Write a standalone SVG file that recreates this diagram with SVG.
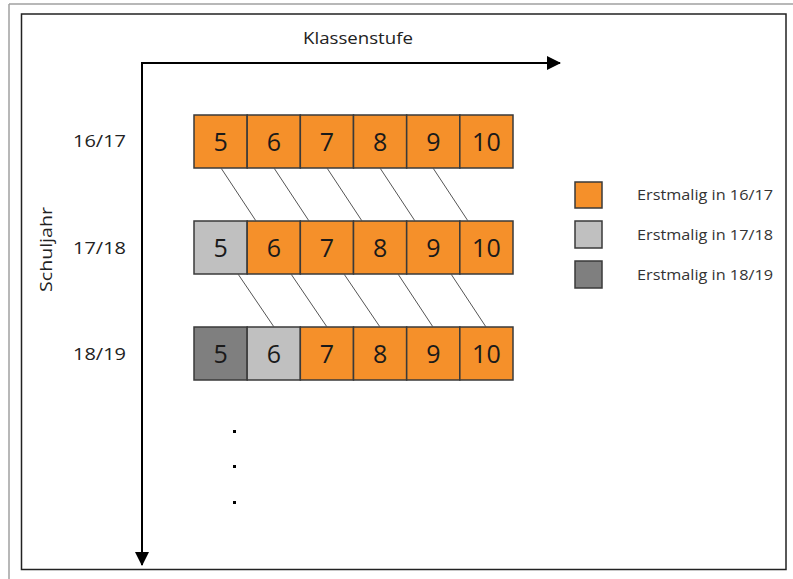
<svg xmlns="http://www.w3.org/2000/svg" width="793" height="579" viewBox="0 0 793 579">
  <style>
    .box { stroke: #3a3a3a; stroke-width: 1.5; }
    .o { fill: #F5902A; }
    .l { fill: #C0C0C0; }
    .d { fill: #7F7F7F; }
    .num { font-family: "Open Sans", "Liberation Sans", sans-serif; font-size: 25px; fill: #1a1a1a; text-anchor: middle; }
    .lab { font-family: "Open Sans", "Liberation Sans", sans-serif; font-size: 17px; fill: #222; }
    .leg { font-family: "Open Sans", "Liberation Sans", sans-serif; font-size: 14px; fill: #333; }
    .link { stroke: #555; stroke-width: 1; fill: none; }
    .axis { stroke: #000; stroke-width: 2; fill: none; }
  </style>
  <defs>
    <marker id="arr" viewBox="0 0 14 14" refX="13" refY="7" markerWidth="14" markerHeight="14" markerUnits="userSpaceOnUse" orient="auto">
      <path d="M0,0 L14,7 L0,14 Z" fill="#000"/>
    </marker>
  </defs>
  <rect x="0" y="0" width="793" height="579" fill="#fff"/>
  <g id="page-border">
    <line x1="9" y1="4" x2="793" y2="4" stroke="#a0a0a0" stroke-width="1.5"/>
    <line x1="9" y1="4" x2="9" y2="579" stroke="#a0a0a0" stroke-width="1.5"/>
  </g>
  <rect id="frame" x="21.5" y="14" width="764.5" height="555.5" fill="none" stroke="#222" stroke-width="1.5"/>

  <g id="axes">
    <polyline class="axis" points="142,562 142,63 560,63" marker-end="url(#arr)"/>
    <line class="axis" x1="142" y1="63" x2="142" y2="565" marker-end="url(#arr)"/>
    <text id="x-label" class="lab" x="303" y="44" textLength="110" lengthAdjust="spacingAndGlyphs">Klassenstufe</text>
    <text id="y-label" class="lab" transform="translate(52,292) rotate(-90)" textLength="85" lengthAdjust="spacingAndGlyphs">Schuljahr</text>
  </g>

  <g id="row-labels">
    <text class="lab" x="73" y="147" textLength="53" lengthAdjust="spacingAndGlyphs">16/17</text>
    <text class="lab" x="73" y="254" textLength="53" lengthAdjust="spacingAndGlyphs">17/18</text>
    <text class="lab" x="73" y="360" textLength="53" lengthAdjust="spacingAndGlyphs">18/19</text>
  </g>

  <g id="row-1617">
    <rect class="box o" x="194" y="115" width="53.17" height="53"/>
    <rect class="box o" x="247.17" y="115" width="53.17" height="53"/>
    <rect class="box o" x="300.33" y="115" width="53.17" height="53"/>
    <rect class="box o" x="353.5" y="115" width="53.17" height="53"/>
    <rect class="box o" x="406.67" y="115" width="53.17" height="53"/>
    <rect class="box o" x="459.83" y="115" width="53.17" height="53"/>
    <text class="num" x="220.6" y="150.5">5</text>
    <text class="num" x="273.8" y="150.5">6</text>
    <text class="num" x="326.9" y="150.5">7</text>
    <text class="num" x="380.1" y="150.5">8</text>
    <text class="num" x="433.3" y="150.5">9</text>
    <text class="num" x="486.4" y="150.5">10</text>
  </g>

  <g id="row-1718">
    <rect class="box l" x="194" y="221" width="53.17" height="53"/>
    <rect class="box o" x="247.17" y="221" width="53.17" height="53"/>
    <rect class="box o" x="300.33" y="221" width="53.17" height="53"/>
    <rect class="box o" x="353.5" y="221" width="53.17" height="53"/>
    <rect class="box o" x="406.67" y="221" width="53.17" height="53"/>
    <rect class="box o" x="459.83" y="221" width="53.17" height="53"/>
    <text class="num" x="220.6" y="256.5">5</text>
    <text class="num" x="273.8" y="256.5">6</text>
    <text class="num" x="326.9" y="256.5">7</text>
    <text class="num" x="380.1" y="256.5">8</text>
    <text class="num" x="433.3" y="256.5">9</text>
    <text class="num" x="486.4" y="256.5">10</text>
  </g>

  <g id="row-1819">
    <rect class="box d" x="194" y="327" width="53.17" height="53"/>
    <rect class="box l" x="247.17" y="327" width="53.17" height="53"/>
    <rect class="box o" x="300.33" y="327" width="53.17" height="53"/>
    <rect class="box o" x="353.5" y="327" width="53.17" height="53"/>
    <rect class="box o" x="406.67" y="327" width="53.17" height="53"/>
    <rect class="box o" x="459.83" y="327" width="53.17" height="53"/>
    <text class="num" x="220.6" y="362.5">5</text>
    <text class="num" x="273.8" y="362.5">6</text>
    <text class="num" x="326.9" y="362.5">7</text>
    <text class="num" x="380.1" y="362.5">8</text>
    <text class="num" x="433.3" y="362.5">9</text>
    <text class="num" x="486.4" y="362.5">10</text>
  </g>

  <g id="connectors">
    <line class="link" x1="221" y1="168" x2="256" y2="221"/>
    <line class="link" x1="274" y1="168" x2="309" y2="221"/>
    <line class="link" x1="327" y1="168" x2="362" y2="221"/>
    <line class="link" x1="380" y1="168" x2="415" y2="221"/>
    <line class="link" x1="433" y1="168" x2="468" y2="221"/>
    <line class="link" x1="238" y1="274" x2="274" y2="327"/>
    <line class="link" x1="291" y1="274" x2="327" y2="327"/>
    <line class="link" x1="344" y1="274" x2="380" y2="327"/>
    <line class="link" x1="398" y1="274" x2="433" y2="327"/>
    <line class="link" x1="451" y1="274" x2="486" y2="327"/>
  </g>

  <g id="dots" fill="#000">
    <rect x="233" y="430" width="3" height="3"/>
    <rect x="233" y="465" width="3" height="3"/>
    <rect x="233" y="501" width="3" height="3"/>
  </g>

  <g id="legend">
    <g id="legend-1617">
      <rect class="box o" x="575" y="182" width="27" height="26"/>
      <text class="leg" x="637" y="200" textLength="136" lengthAdjust="spacingAndGlyphs">Erstmalig in 16/17</text>
    </g>
    <g id="legend-1718">
      <rect class="box l" x="575" y="221" width="27" height="27"/>
      <text class="leg" x="637" y="240" textLength="136" lengthAdjust="spacingAndGlyphs">Erstmalig in 17/18</text>
    </g>
    <g id="legend-1819">
      <rect class="box d" x="575" y="261" width="27" height="27"/>
      <text class="leg" x="637" y="280" textLength="136" lengthAdjust="spacingAndGlyphs">Erstmalig in 18/19</text>
    </g>
  </g>
</svg>
